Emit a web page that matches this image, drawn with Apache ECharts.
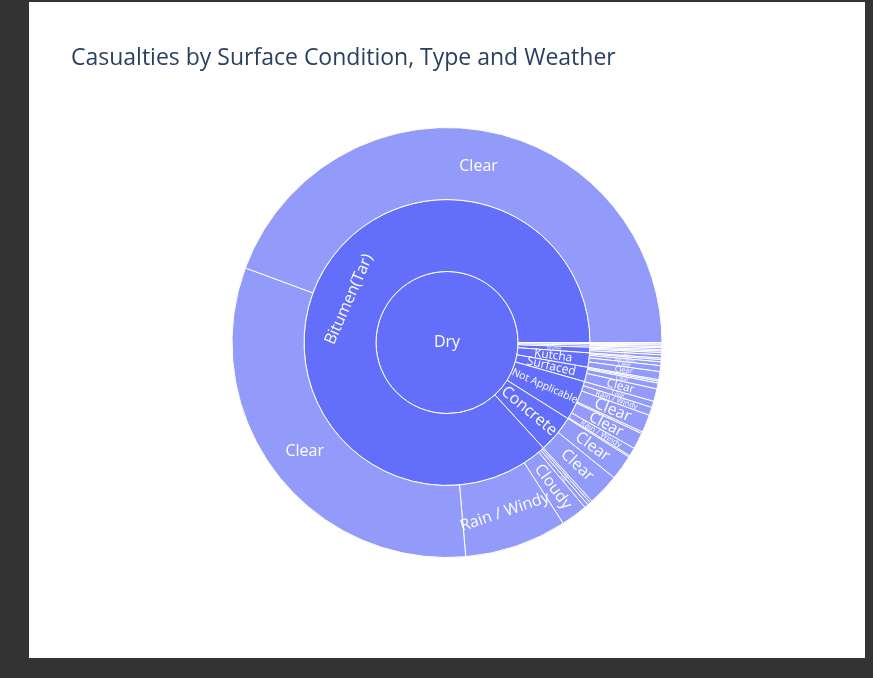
<!DOCTYPE html>
<html><head><meta charset="utf-8">
<script src="https://cdn.jsdelivr.net/npm/echarts@6/dist/echarts.min.js"></script>
<style>
html,body{margin:0;padding:0;background:#333;width:873px;height:678px;overflow:hidden}
#panel{position:absolute;left:29px;top:2px;width:836px;height:656px;background:#fff}
#chart{width:836px;height:656px}
</style></head><body><div id="panel"><div id="chart"></div></div>
<script>
const titleText = 'Casualties by Surface Condition, Type and Weather';
const rootLabel = 'Dry';
const typeLabels = ['Bitumen(Tar)','Concrete','Not Applicable','Surfaced','Kutcha','Gravel','Brick','Earthen','Others'];
const typeValues = [3124,154,163,59,58,23,8,7,4];
const weatherLabels = [
 ['Clear','Clear','Rain / Windy','Cloudy','Fog','Hail','Others'],
 ['Clear','Clear'],
 ['Fog','Rain / Windy','Clear','Cloudy','Clear','Rain / Windy','Clear'],
 ['Clear','Clear','Rain / Windy','Cloudy'],
 ['Clear','Clear','Rain / Windy','Cloudy','Fog'],
 ['Clear','Clear','Rain / Windy','Cloudy'],
 ['Clear','Rain / Windy'],
 ['Clear','Cloudy'],
 ['Clear']
];
const weatherValues = [
 [1597,1153,277,72,11,8,6],
 [86,68],
 [4,23,44,5,48,22,17],
 [34,16,5,4],
 [22,16,10,6,4],
 [9,6,4,4],
 [5,3],
 [4,3],
 [4]
];

const FONT = '"Open Sans", sans-serif';
const ringR = [0, 71, 143, 215];
const baseFont = 16;
const total = typeValues.reduce((a,b)=>a+b,0);
const mctx = document.createElement('canvas').getContext('2d');
function em(t){ mctx.font = '100px "Open Sans"'; return mctx.measureText(t).width/100; }

function labelFor(name, value, depth){
  const theta = value/total*2*Math.PI;
  const deg = theta*180/Math.PI;
  const rMid = (ringR[depth-1]+ringR[depth])/2;
  const width = ringR[depth]-ringR[depth-1];
  if (depth === 1) return {rotate:0, fontSize:baseFont};
  if (depth === 2) {
    if (deg > 90) return {rotate:'tangential', fontSize:baseFont};
  } else {
    if (deg > 100) return {rotate:0, fontSize:baseFont};
    if (deg > 20) return {rotate:'tangential', fontSize:baseFont};
  }
  const fs = Math.min(baseFont, (width-1)/em(name), 1.1*rMid*theta);
  return {rotate:'radial', fontSize:Math.max(fs, 1)};
}

// Arrays are listed counter-clockwise from 3 o'clock; drawn clockwise in reverse order (same picture).
const children = typeLabels.map((t,i)=>({
  name:t, value:typeValues[i],
  label:labelFor(t, typeValues[i], 2),
  children: weatherLabels[i].map((w,j)=>({
    name:w, value:weatherValues[i][j],
    label:labelFor(w, weatherValues[i][j], 3)
  })).reverse()
})).reverse();
const data = [{name:rootLabel, value:total, label:labelFor(rootLabel,total,1), children}];

const chart = echarts.init(document.getElementById('chart'), null, {renderer:'canvas'});
chart.setOption({
  animation:false,
  title:{text:titleText, left:42, top:43, padding:0,
    textStyle:{fontFamily:FONT, fontSize:23, fontWeight:'normal', color:'#2a3f5f', lineHeight:26}},
  series:[{
    type:'sunburst',
    center:[418, 340.5],
    startAngle:0,
    clockwise:true,
    sort:null,
    nodeClick:false,
    emphasis:{disabled:true},
    data,
    label:{color:'#fff', fontFamily:FONT, textBorderWidth:0, minAngle:0},
    itemStyle:{borderColor:'#fff', borderWidth:1},
    levels:[
      {},
      {r0:ringR[0], r:ringR[1], itemStyle:{color:'#636efa'}},
      {r0:ringR[1], r:ringR[2], itemStyle:{color:'#636efa'}},
      {r0:ringR[2], r:ringR[3], itemStyle:{color:'#929afa'}}
    ]
  }]
});
</script></body></html>
